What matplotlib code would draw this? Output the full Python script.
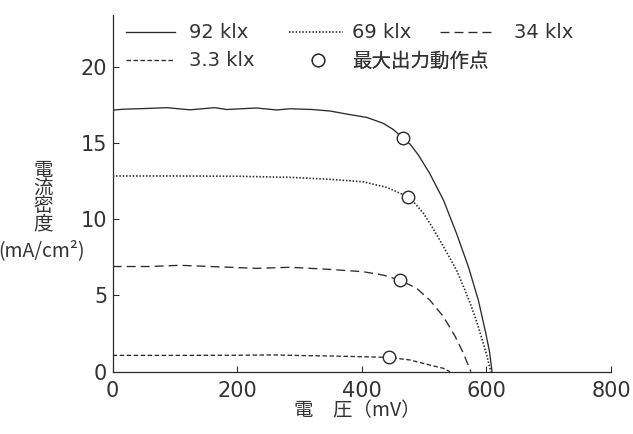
import matplotlib
matplotlib.use('Agg')
import matplotlib.pyplot as plt

plt.rcParams['font.family'] = ['DejaVu Sans', 'Noto Sans CJK JP']

# I-V curves (voltage mV, current density mA/cm2)
v_92 = [0, 17, 49, 87, 124, 164, 183, 231, 263, 285, 320, 349, 376, 408, 434, 450,
        466, 478, 491, 509, 531, 552, 571, 587, 599, 605, 609]
i_92 = [17.16, 17.22, 17.26, 17.32, 17.18, 17.32, 17.2, 17.3, 17.17, 17.25, 17.2, 17.1,
        16.9, 16.68, 16.3, 15.9, 15.34, 14.9, 14.2, 13.0, 11.26, 9.07, 6.89, 4.7, 2.52,
        1.3, 0]

v_69 = [0, 100, 200, 285, 349, 402, 440, 474, 486, 499, 512, 525, 538, 552, 563, 574,
        585, 595, 601, 607]
i_69 = [12.84, 12.84, 12.82, 12.75, 12.62, 12.46, 12.09, 11.48, 11.0, 10.38, 9.55, 8.64,
        7.7, 6.66, 5.6, 4.48, 3.2, 1.86, 1.0, 0]

v_34 = [0, 60, 108, 170, 231, 285, 349, 402, 434, 461, 488, 509, 531, 550, 563, 575]
i_34 = [6.9, 6.9, 6.98, 6.88, 6.78, 6.85, 6.71, 6.56, 6.34, 6.01, 5.47, 4.7, 3.61,
        2.3, 1.21, 0]

v_33 = [0, 100, 200, 260, 300, 349, 402, 443, 477, 509, 531, 541.5]
i_33 = [1.07, 1.07, 1.08, 1.1, 1.06, 1.03, 0.98, 0.94, 0.77, 0.44, 0.22, 0]

# maximum power points
mpp_v = [466, 474, 461, 443]
mpp_i = [15.34, 11.48, 6.01, 0.94]

x_ticks = [0, 200, 400, 600, 800]
y_ticks = [0, 5, 10, 15, 20]

W, H = 633, 434
col = '#2b2b2b'
txt = '#333333'
jp = ['Noto Sans CJK JP', 'DejaVu Sans']

fig = plt.figure(figsize=(W / 100, H / 100), dpi=100)
ax = fig.add_axes([112.7 / W, 1 - 371.7 / H, (611 - 112.7) / W, (371.7 - 15) / H])

l92, = ax.plot(v_92, i_92, color=col, lw=0.95, ls='-')
l69, = ax.plot(v_69, i_69, color=col, lw=1.2, ls=(0, (0.9, 1.1)))
l34, = ax.plot(v_34, i_34, color=col, lw=0.95, ls=(0, (6.8, 3.8)))
l33, = ax.plot(v_33, i_33, color=col, lw=0.95, ls=(0, (3.4, 1.9)))
mpp, = ax.plot(mpp_v, mpp_i, 'o', ms=9, mfc='white', mec=col, mew=1.0, ls='none',
               zorder=5)

ax.set_xlim(0, 800)
ax.set_ylim(0, 23.4)
ax.set_xticks(x_ticks)
ax.set_yticks(y_ticks)
ax.tick_params(direction='in', length=4.5, width=0.75, colors=col, labelsize=15)
ax.tick_params(axis='x', pad=7)
ax.tick_params(axis='y', pad=4)
for s in ['top', 'right']:
    ax.spines[s].set_visible(False)
for s in ['left', 'bottom']:
    ax.spines[s].set_color(col)
    ax.spines[s].set_linewidth(0.9)
for lab in ax.get_xticklabels() + ax.get_yticklabels():
    lab.set_color(txt)

# legend entries placed one by one (layout is not a regular grid)
fs_px = 14 * 100 / 72


def add_key(handle, label, x_px, y_px, hl_px, pad_px):
    leg = ax.legend([handle], [label], loc='center left',
                    bbox_to_anchor=(x_px / W, 1 - y_px / H),
                    bbox_transform=fig.transFigure, frameon=False,
                    borderpad=0, borderaxespad=0, numpoints=1,
                    handlelength=hl_px / fs_px, handletextpad=pad_px / fs_px,
                    fontsize=14, labelcolor=txt)
    ax.add_artist(leg)


add_key(l92, '92 klx', 126, 33, 49, 14)
add_key(l69, '69 klx', 289, 33, 54, 9)
add_key(l34, '34 klx', 440, 33, 53, 21)
add_key(l33, '3.3 klx', 126, 61, 49, 14)
add_key(mpp, '最大出力動作点', 290, 61, 56, 6)

# axis labels (vertical stacked title for y)
fig.text(43 / W, 1 - 197 / H, '電\n流\n密\n度', ha='center', va='center',
         fontsize=14, linespacing=0.8, color=txt, family=jp)
fig.text(42 / W, 1 - 251 / H, '(mA/cm²)', ha='center', va='center', fontsize=14,
         color=txt, family=jp)
fig.text(357 / W, 1 - 411 / H, '電\u3000圧（mV）', ha='center', va='center',
         fontsize=14, color=txt, family=jp)

fig.savefig('out.png', dpi=100)
